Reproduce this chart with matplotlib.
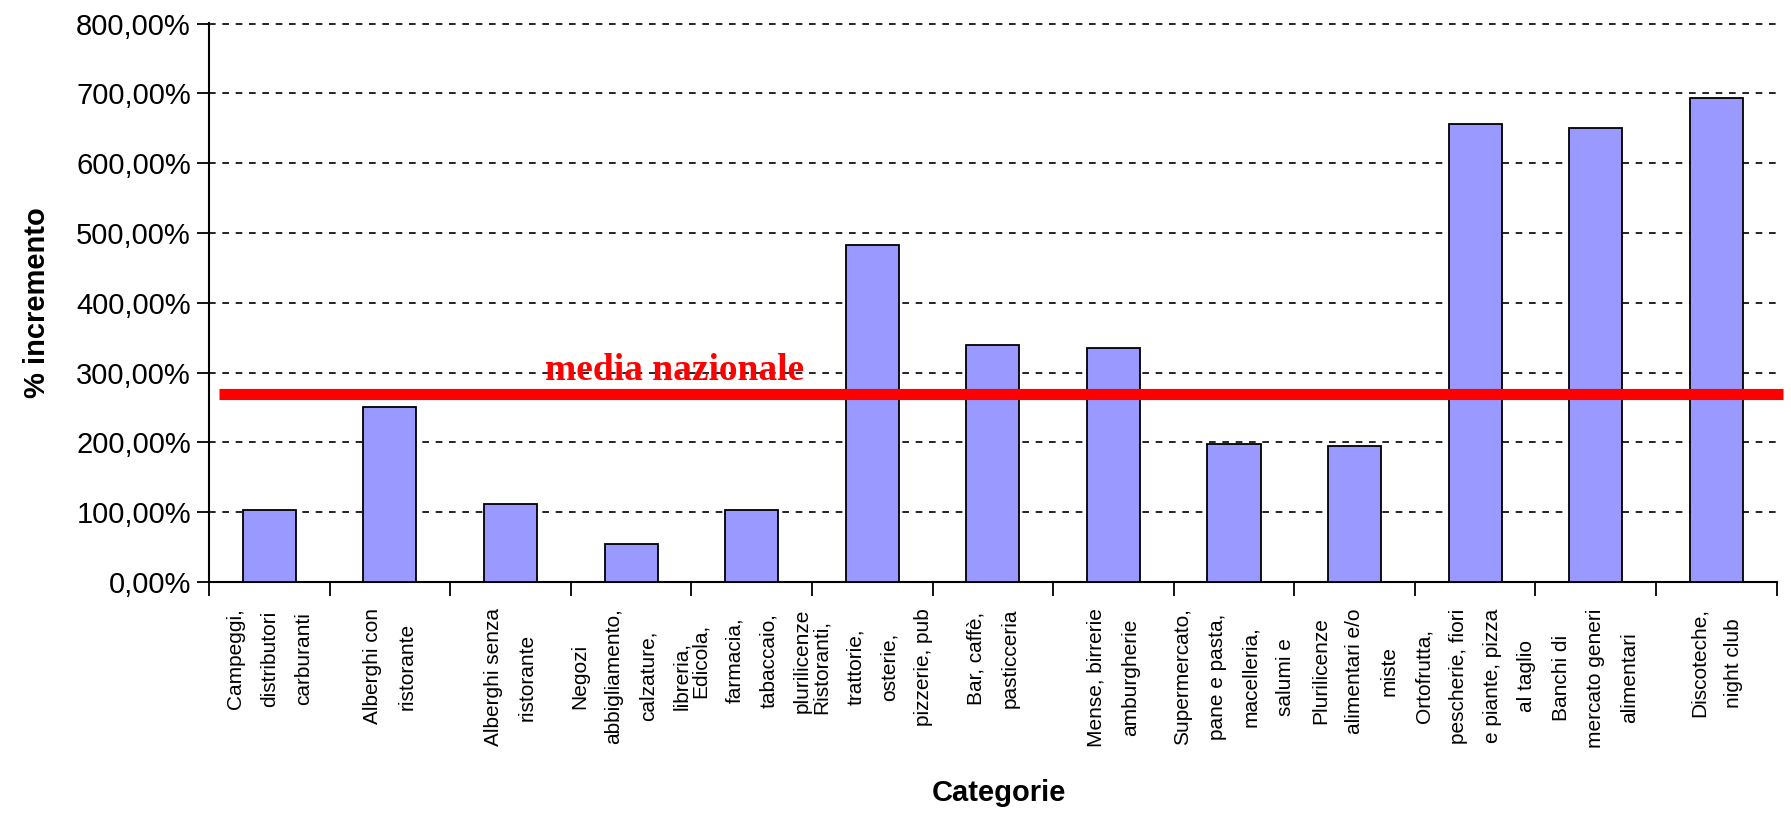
import numpy as np
import matplotlib.pyplot as plt
from matplotlib.ticker import FuncFormatter, FixedLocator

# data
categories = [
    "Campeggi,\ndistributori\ncarburanti",
    "Alberghi con\nristorante",
    "Alberghi senza\nristorante",
    "Negozi\nabbigliamento,\ncalzature,\nlibreria,",
    "Edicola,\nfarmacia,\ntabaccaio,\nplurilicenze",
    "Ristoranti,\ntrattorie,\nosterie,\npizzerie, pub",
    "Bar, caffè,\npasticceria",
    "Mense, birrerie\namburgherie",
    "Supermercato,\npane e pasta,\nmacelleria,\nsalumi e",
    "Plurilicenze\nalimentari e/o\nmiste",
    "Ortofrutta,\npescherie, fiori\ne piante, pizza\nal taglio",
    "Banchi di\nmercato generi\nalimentari",
    "Discoteche,\nnight club",
]
increments = [103, 250, 111, 55, 103, 482, 340, 335, 197, 194, 656, 651, 693]
media_nazionale = 269
yticks = [0, 100, 200, 300, 400, 500, 600, 700, 800]

plt.rcParams['font.family'] = ['Liberation Sans', 'DejaVu Sans']

fig = plt.figure(figsize=(17.91, 8.15), dpi=100)
ax = fig.add_axes([0.1167, 0.286, 0.8753, 0.686])

x = np.arange(len(categories))
ax.bar(x, increments, width=0.44, color="#9999ff", edgecolor="black", linewidth=1.3, zorder=3)

ax.set_xlim(-0.5, len(categories) - 0.5)
ax.set_ylim(0, 801)

# national average line
ax.plot([-0.42, len(categories) - 0.45], [media_nazionale, media_nazionale],
        color="#ff0000", linewidth=8, solid_capstyle="butt", zorder=4, clip_on=False)
ax.text(3.36, media_nazionale + 9, "media nazionale", color="#ff0000",
        family="Liberation Serif", fontweight="bold", fontsize=27,
        ha="center", va="bottom", zorder=5)

ax.yaxis.set_major_locator(FixedLocator(yticks))
ax.yaxis.set_major_formatter(FuncFormatter(lambda v, p: f"{v:.2f}".replace(".", ",") + "%"))
ax.grid(axis="y", color="black", linestyle=(0, (4, 4)), linewidth=1.2, zorder=1)

# category ticks sit on the boundaries, labels in the middle
ax.set_xticks(np.arange(len(categories) + 1) - 0.5)
ax.set_xticklabels([])
ax.set_xticks(x, minor=True)
ax.set_xticklabels(categories, minor=True, rotation=90, fontsize=15,
                   ha="center", va="top", multialignment="center", linespacing=2.0)
ax.tick_params(axis="x", which="minor", length=0, pad=19)
ax.tick_params(axis="x", which="major", length=10, width=1.3, direction="out")
ax.tick_params(axis="y", length=9, width=1.3, direction="out", labelsize=21, pad=4)

for s in ["top", "right"]:
    ax.spines[s].set_visible(False)
for s in ["left", "bottom"]:
    ax.spines[s].set_linewidth(1.5)

ax.set_ylabel("% incremento", fontsize=21, fontweight="bold", labelpad=18)
fig.text(0.558, 0.027, "Categorie", fontsize=21, fontweight="bold", ha="center", va="center")

fig.savefig("out.png", dpi=100)
